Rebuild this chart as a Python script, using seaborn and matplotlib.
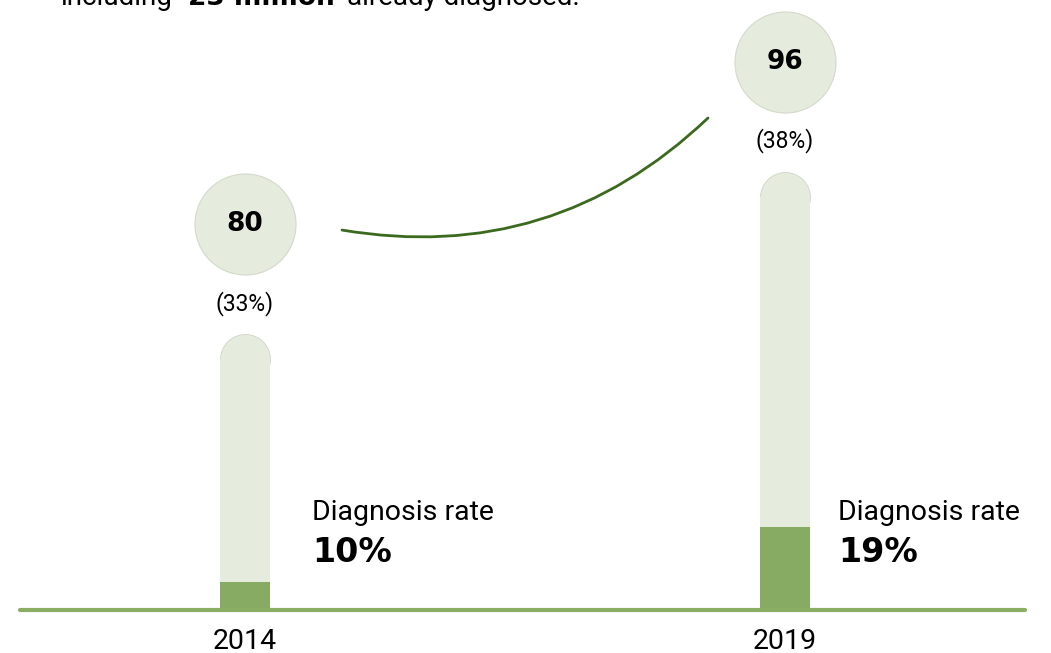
import matplotlib
matplotlib.use("Agg")
import matplotlib.pyplot as plt
import seaborn as sns
from matplotlib.transforms import offset_copy

years = ["2014", "2019"]
totals = [80, 96]          # circle values
shares = [33, 38]          # (xx%) labels
diag_rates = [10, 19]      # diagnosis rate %

light = "#e6ecdd"
dark = "#87ab63"
curve_col = "#3b6a1f"
base = 52.76               # value at the baseline

sns.set_theme(style="white")
plt.rcParams["font.family"] = ["Roboto", "DejaVu Sans"]
plt.rcParams["text.color"] = "black"
plt.rcParams["xtick.color"] = "black"
bold_font = ["DejaVu Sans"]

fig = plt.figure(figsize=(10.51, 6.53), dpi=100)
ax = fig.add_axes([20 / 1051, 43 / 653, 1005 / 1051, 610 / 653])

# pale full bars
sns.barplot(x=years, y=totals, color=light, width=0.0926, ax=ax,
            saturation=1, linewidth=0)
n_light = len(ax.patches)

# darker diagnosed part
dark_h = [base + r / 100 * (t - base) for r, t in zip(diag_rates, totals)]
sns.barplot(x=years, y=dark_h, color=dark, width=0.0926, ax=ax,
            saturation=1, linewidth=0)

ax.set_xlim(-0.4167, 1.4444)
ax.set_ylim(base, base + 610 / 10.13)
fig.canvas.draw()

# round caps on the pale bars: shorten by radius, add a circle on top
px_x = ax.transData.transform((1, 0))[0] - ax.transData.transform((0, 0))[0]
px_y = ax.transData.transform((0, 1))[1] - ax.transData.transform((0, 0))[1]
for p in ax.patches[:n_light]:
    w = p.get_width()
    r_px = w / 2 * px_x
    r_y = r_px / px_y
    p.set_height(p.get_height() - r_y)
    p.set_zorder(1.2)
    d_pt = 2 * r_px * 72 / fig.dpi
    ax.scatter([p.get_x() + w / 2], [p.get_y() + p.get_height()], s=d_pt ** 2,
               color=light, edgecolor="#cfd5c7", linewidth=0.6, zorder=1,
               marker="o")
for p in ax.patches[n_light:]:
    p.set_zorder(2)

ax.axhline(base, color="#8aae64", lw=3, clip_on=False, zorder=3)

label_dx = [67, 53]
for i, (t, s, r) in enumerate(zip(totals, shares, diag_rates)):
    circ_tr = offset_copy(ax.transData, fig=fig, x=0, y=110, units="dots")
    ax.scatter([i], [t], s=5290, color=light, edgecolor="#d3d9cb",
               linewidth=0.8, transform=circ_tr, clip_on=False, zorder=4)
    ax.text(i, t, str(t), transform=circ_tr, ha="center", va="center",
            fontsize=19, fontweight="bold", family=bold_font,
            zorder=5, clip_on=False)
    ax.text(i, t, f"({s}%)", ha="center", va="center", fontsize=16.5,
            transform=offset_copy(ax.transData, fig=fig, y=31, units="dots"),
            clip_on=False)
    ax.text(i, base, "Diagnosis rate", ha="left", va="baseline", fontsize=20.5,
            transform=offset_copy(ax.transData, fig=fig, x=label_dx[i], y=90, units="dots"))
    ax.text(i, base, f"{r}%", ha="left", va="baseline", fontsize=24,
            fontweight="bold", family=bold_font,
            transform=offset_copy(ax.transData, fig=fig, x=label_dx[i], y=48, units="dots"))

# connecting curve between the two circles
ax.annotate("", xy=(1, totals[1]),
            xycoords=offset_copy(ax.transData, fig=fig, x=-77, y=54, units="dots"),
            xytext=(0, totals[0]),
            textcoords=offset_copy(ax.transData, fig=fig, x=97, y=104, units="dots"),
            arrowprops=dict(arrowstyle="-", color=curve_col, lw=2,
                            connectionstyle="arc3,rad=0.25",
                            shrinkA=0, shrinkB=0),
            annotation_clip=False)

ax.tick_params(axis="x", length=0, pad=13, labelsize=20.5)
ax.tick_params(axis="y", left=False, labelleft=False)
ax.set_xlabel("")
ax.set_ylabel("")
sns.despine(ax=ax, left=True, bottom=True)

# clipped headline text at the top
ty = 1 - 5 / 653
fig.text(60 / 1051, ty, "including", fontsize=20, va="baseline")
fig.text(188 / 1051, ty, "23 million", fontsize=19, va="baseline",
         fontweight="bold", family=bold_font)
fig.text(347 / 1051, ty, "already diagnosed.", fontsize=20, va="baseline")

fig.savefig("out.png", dpi=100)
